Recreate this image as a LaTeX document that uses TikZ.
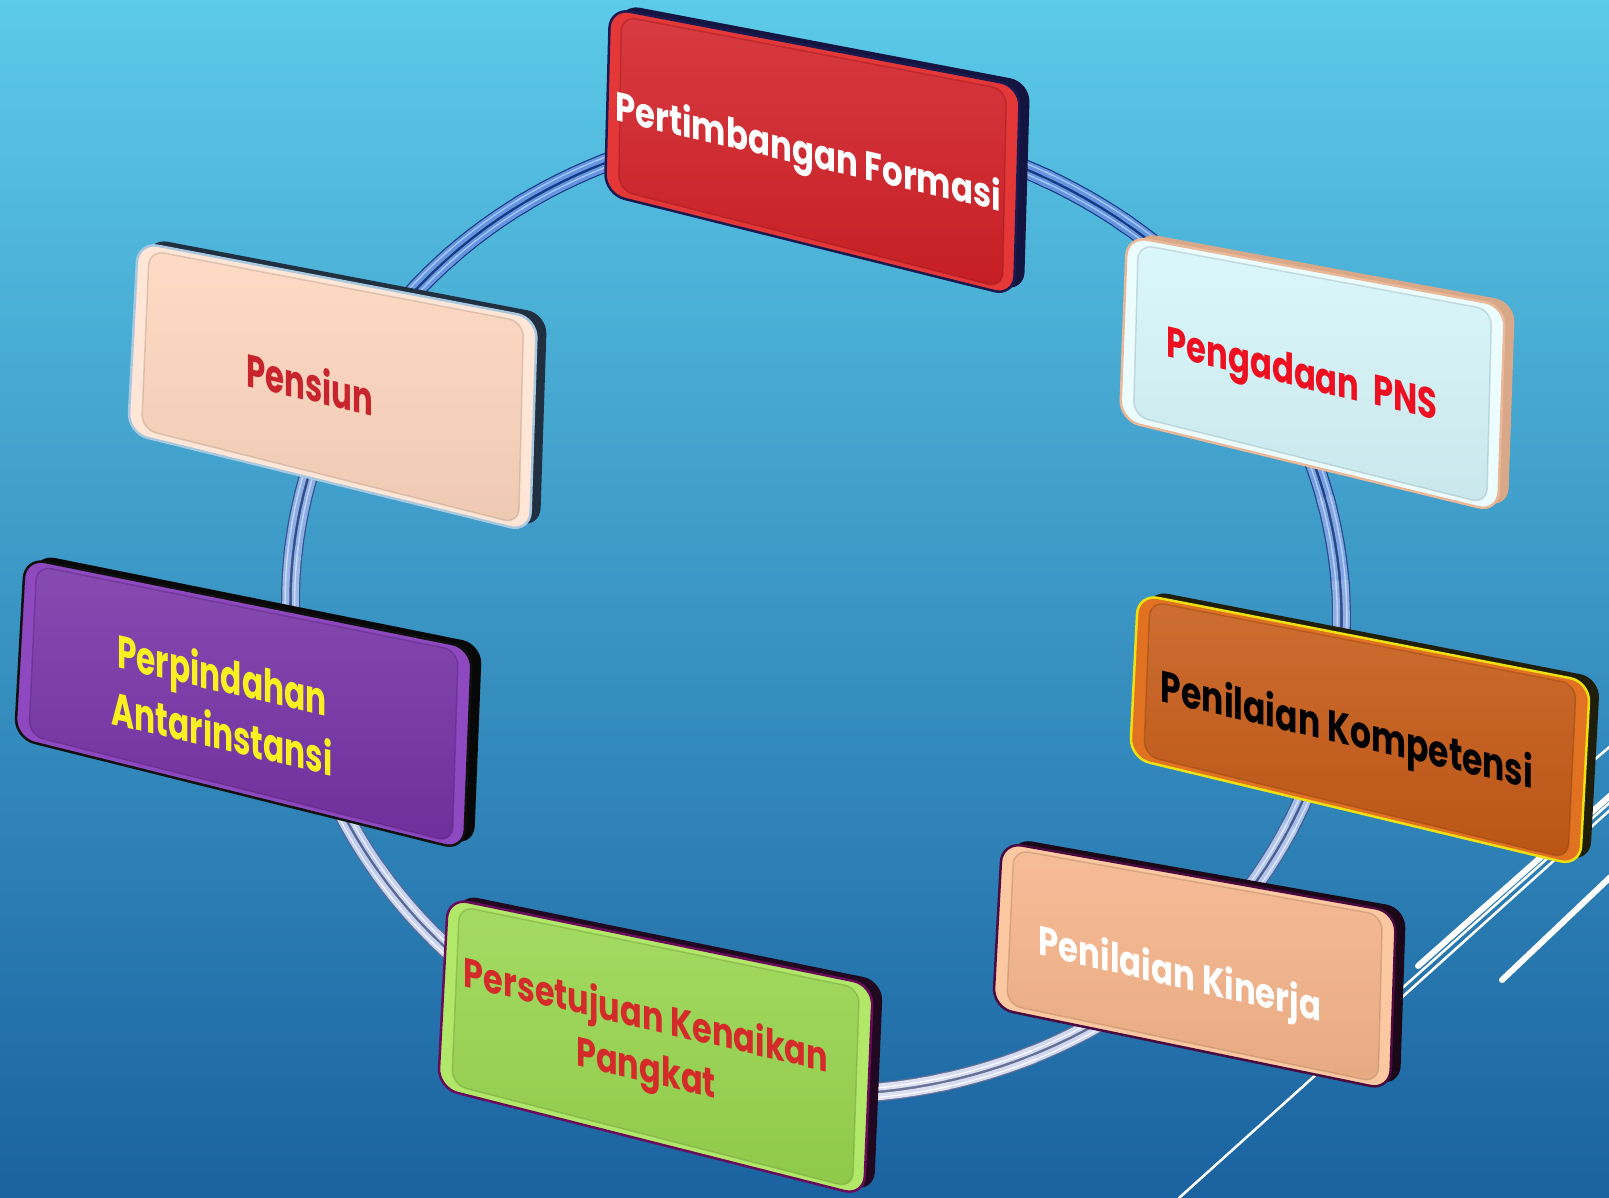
\documentclass[tikz,border=0pt]{standalone}
\usepackage{fontspec}
\setmainfont{Poppins}
\usetikzlibrary{calc}
\definecolor{bgtop}{HTML}{5CCAE9}
\definecolor{bgbot}{HTML}{1A62A0}
\definecolor{ringDB}{HTML}{163A7E}
\definecolor{ringDW}{HTML}{6E7698}
\definecolor{ringLB}{HTML}{6494E2}
\definecolor{ringLW}{HTML}{E2E2F2}
\definecolor{ringHB}{HTML}{A6C8F6}
\definecolor{ringHW}{HTML}{FFFFFF}
% box colours
\definecolor{redF}{HTML}{D22027}\definecolor{redR}{HTML}{E43838}\definecolor{redE}{HTML}{1A1A50}\definecolor{redD}{HTML}{141440}
\definecolor{cyaF}{HTML}{D6F6FB}\definecolor{cyaR}{HTML}{ECFDFF}\definecolor{cyaE}{HTML}{EAB898}\definecolor{cyaD}{HTML}{D8A888}
\definecolor{oraF}{HTML}{C65A16}\definecolor{oraR}{HTML}{E07222}\definecolor{oraE}{HTML}{F0E010}\definecolor{oraD}{HTML}{1E1E0A}
\definecolor{pchF}{HTML}{F6B48A}\definecolor{pchR}{HTML}{FCC8A2}\definecolor{pchE}{HTML}{4A0A40}\definecolor{pchD}{HTML}{1A0818}
\definecolor{grnF}{HTML}{98D64E}\definecolor{grnR}{HTML}{B2E86A}\definecolor{grnE}{HTML}{6A0A5A}\definecolor{grnD}{HTML}{200820}
\definecolor{purF}{HTML}{7632A6}\definecolor{purR}{HTML}{8E48C0}\definecolor{purE}{HTML}{101010}\definecolor{purD}{HTML}{080808}
\definecolor{lpkF}{HTML}{FED6BE}\definecolor{lpkR}{HTML}{FFE6D6}\definecolor{lpkE}{HTML}{A8C8E0}\definecolor{lpkD}{HTML}{203040}
\definecolor{txtRed}{HTML}{EE1020}\definecolor{txtRed2}{HTML}{D42A2A}\definecolor{txtRed3}{HTML}{C8242E}\definecolor{txtYel}{HTML}{F8F020}
\newcommand\ringpath[1]{plot[domain=\ra:\rb, samples=7, variable=\rt] ({816+(526+#1)*cos(\rt)*0.9945-(484+#1)*sin(\rt)*0.1045},{610+(526+#1)*cos(\rt)*0.1045+(484+#1)*sin(\rt)*0.9945})}
\newcommand\ringloop[3]{%
  \foreach \ra in {0,10,...,350}{%
    \pgfmathsetmacro\rb{\ra+11}%
    \pgfmathtruncatemacro\w{max(0,min(100,62-58*sin(\ra+5)))}%
    \draw[color=#3B!\w!#3W, line width=#2] \ringpath{#1};
  }}
\newcommand\slab[5]{%
  \fill[#5, rounded corners=20pt] ($(#1a)+(10,-4)$) -- ($(#1b)+(10,-4)$) -- ($(#1c)+(10,-4)$) -- ($(#1d)+(10,-4)$) -- cycle;
  \filldraw[fill=#3, draw=#4, line width=2.5pt, rounded corners=20pt] (#1a) -- (#1b) -- (#1c) -- (#1d) -- cycle;
  \shade[top color=#2!88!white, bottom color=#2!94!black, rounded corners=15pt] ($(#1a)!14pt!(#1c)$) -- ($(#1b)!14pt!(#1d)$) -- ($(#1c)!14pt!(#1a)$) -- ($(#1d)!14pt!(#1b)$) -- cycle;
  \draw[draw=#2!70!black, draw opacity=0.4, line width=1.5pt, rounded corners=15pt] ($(#1a)!14pt!(#1c)$) -- ($(#1b)!14pt!(#1d)$) -- ($(#1c)!14pt!(#1a)$) -- ($(#1d)!14pt!(#1b)$) -- cycle;
}
\tikzset{lbl/.style={inner sep=0pt, align=center, yslant=-0.235},
  deco/.style={white, line cap=round}}
\begin{document}
\begin{tikzpicture}[x=1pt,y=-1pt,line join=round]
\useasboundingbox (0,0) rectangle (1609,1198);
\shade[top color=bgtop, bottom color=bgbot] (0,0) rectangle (1609,1198);
% ring
\ringloop{0}{19pt}{ringD}
\ringloop{4.8}{7pt}{ringL}
\ringloop{-4.8}{7pt}{ringL}
\ringloop{5.4}{1.3pt}{ringH}
\ringloop{-4.2}{1.3pt}{ringH}
% decorative lines
\coordinate (l1a) at (1418,966); \coordinate (l1b) at (1700,716);
\coordinate (l2a) at (1380,1008); \coordinate (l2b) at (1700,722);
\coordinate (l3a) at (1179,1198); \coordinate (l3b) at (1700,729);
\coordinate (l4a) at (1502,980); \coordinate (l4b) at (1700,792);
\coordinate (l5a) at (1500,840); \coordinate (l5b) at (1700,670);
\draw[deco, line width=6pt] (l1a) -- (l1b);
\draw[deco, line width=2.5pt] (l2a) -- (l2b);
\draw[deco, line width=2.5pt] (l3a) -- (l3b);
\draw[deco, line width=6pt] (l4a) -- (l4b);
\draw[deco, line width=2.5pt] (l5a) -- (l5b);
% box corners
\coordinate (b1a) at (610,8);   \coordinate (b1b) at (1020,86);  \coordinate (b1c) at (1014,296); \coordinate (b1d) at (605,194);
\coordinate (b2a) at (1127,236); \coordinate (b2b) at (1505,306); \coordinate (b2c) at (1498,512); \coordinate (b2d) at (1120,420);
\coordinate (b3a) at (1138,594); \coordinate (b3b) at (1590,682); \coordinate (b3c) at (1580,866); \coordinate (b3d) at (1130,758);
\coordinate (b4a) at (1002,842); \coordinate (b4b) at (1396,912); \coordinate (b4c) at (1390,1090); \coordinate (b4d) at (993,1008);
\coordinate (b5a) at (448,898);  \coordinate (b5b) at (873,985);  \coordinate (b5c) at (864,1196); \coordinate (b5d) at (438,1088);
\coordinate (b6a) at (25,558);   \coordinate (b6b) at (472,648);  \coordinate (b6c) at (464,850);  \coordinate (b6d) at (15,738);
\coordinate (b7a) at (138,242);  \coordinate (b7b) at (537,318);  \coordinate (b7c) at (530,532);  \coordinate (b7d) at (128,433);
\slab{b1}{redF}{redR}{redE}{redD}
\slab{b2}{cyaF}{cyaR}{cyaE}{cyaD}
\slab{b3}{oraF}{oraR}{oraE}{oraD}
\slab{b4}{pchF}{pchR}{pchE}{pchD}
\slab{b5}{grnF}{grnR}{grnE}{grnD}
\slab{b6}{purF}{purR}{purE}{purD}
\slab{b7}{lpkF}{lpkR}{lpkE}{lpkD}
% labels
\node[lbl, anchor=base, text=white, xscale=0.79, font=\bfseries\fontsize{41}{52}\selectfont] (t1) at (808,166) {Pertimbangan Formasi};
\node[lbl, anchor=base, text=txtRed, xscale=0.75, font=\bfseries\fontsize{43}{52}\selectfont] (t2) at (1302,388) {Pengadaan~~PNS};
\node[lbl, anchor=base, text=black, xscale=0.75, font=\bfseries\fontsize{44}{52}\selectfont] (t3) at (1347,745) {Penilaian Kompetensi};
\node[lbl, anchor=base, text=white, xscale=0.79, font=\bfseries\fontsize{41}{52}\selectfont] (t4) at (1180,988) {Penilaian Kinerja};
\node[lbl, text=txtRed2, xscale=0.78, font=\bfseries\fontsize{41}{53}\selectfont] (t5) at (646,1045) {Persetujuan Kenaikan\\Pangkat};
\node[lbl, text=txtYel, xscale=0.68, font=\bfseries\fontsize{46}{58}\selectfont] (t6) at (222,703) {Perpindahan\\Antarinstansi};
\node[lbl, anchor=base, text=txtRed3, xscale=0.67, font=\bfseries\fontsize{46}{52}\selectfont] (t7) at (310,401) {Pensiun};
\end{tikzpicture}
\end{document}
